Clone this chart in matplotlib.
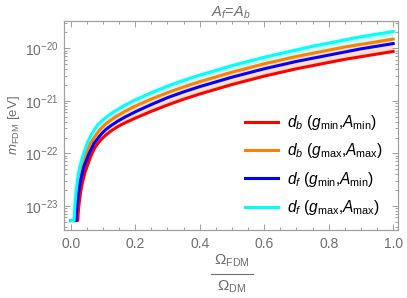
import numpy as np
import matplotlib
matplotlib.use("Agg")
import matplotlib.pyplot as plt
from matplotlib.ticker import MultipleLocator, LogLocator, NullFormatter

plt.rcParams['font.family'] = ['Liberation Sans', 'DejaVu Sans']
plt.rcParams['mathtext.fontset'] = 'custom'
plt.rcParams['mathtext.rm'] = 'Liberation Sans'
plt.rcParams['mathtext.it'] = 'Liberation Sans:italic'
plt.rcParams['mathtext.bf'] = 'Liberation Sans:bold'

# values: x = Omega_FDM/Omega_DM, y = log10(m_FDM / eV)
# (the curves run flat along the bottom of the plot range before they rise)
x_red = [0.0, 0.0215, 0.0225, 0.0248, 0.027, 0.030, 0.034, 0.038, 0.044, 0.050, 0.057,
         0.066, 0.075, 0.084, 0.097, 0.11, 0.125, 0.14, 0.155, 0.168, 0.2, 0.25, 0.3,
         0.35, 0.4, 0.45, 0.5, 0.55, 0.6, 0.65, 0.7, 0.75, 0.8, 0.85, 0.9, 0.95, 1.0]
lg_red = [-23.28, -23.28, -23.17, -23.02, -22.90, -22.76, -22.62, -22.51, -22.37, -22.26, -22.14,
          -22.0, -21.89, -21.81, -21.72, -21.645, -21.573, -21.513, -21.46, -21.42, -21.33, -21.20, -21.08,
          -20.97, -20.87, -20.78, -20.69, -20.61, -20.53, -20.46, -20.39, -20.33, -20.27, -20.21, -20.16, -20.11, -20.06]

x_orange = [0.0, 0.0135, 0.0145, 0.0157, 0.0200, 0.0255, 0.0345, 0.048, 0.061, 0.079, 0.093,
            0.108, 0.135, 0.168, 0.2, 0.25, 0.3, 0.35, 0.4, 0.45, 0.5, 0.55, 0.6,
            0.65, 0.7, 0.75, 0.8, 0.85, 0.9, 0.95, 1.0]
lg_orange = [-23.28, -23.28, -23.16, -23.02, -22.76, -22.51, -22.25, -22.0, -21.81, -21.64, -21.53,
             -21.44, -21.32, -21.20, -21.10, -20.965, -20.845, -20.735, -20.635, -20.545, -20.455, -20.375, -20.295,
             -20.225, -20.155, -20.095, -20.035, -19.975, -19.925, -19.875, -19.825]

x_blue = [0.0, 0.0165, 0.0175, 0.0187, 0.0235, 0.0305, 0.041, 0.057, 0.072, 0.095, 0.108,
          0.123, 0.145, 0.168, 0.2, 0.25, 0.3, 0.35, 0.4, 0.45, 0.5, 0.55, 0.6,
          0.65, 0.7, 0.75, 0.8, 0.85, 0.9, 0.95, 1.0]
lg_blue = [-23.28, -23.28, -23.15, -23.02, -22.76, -22.51, -22.25, -22.0, -21.81, -21.63, -21.55,
           -21.48, -21.39, -21.31, -21.21, -21.07, -20.94, -20.83, -20.73, -20.64, -20.55, -20.47, -20.39,
           -20.32, -20.25, -20.19, -20.13, -20.07, -20.01, -19.96, -19.91]

x_cyan = [0.0, 0.0105, 0.0115, 0.0125, 0.0160, 0.0205, 0.028, 0.040, 0.051, 0.065, 0.082,
          0.10, 0.13, 0.168, 0.2, 0.25, 0.3, 0.35, 0.4, 0.45, 0.5, 0.55, 0.6,
          0.65, 0.7, 0.75, 0.8, 0.85, 0.9, 0.95, 1.0]
lg_cyan = [-23.28, -23.28, -23.15, -23.02, -22.76, -22.51, -22.25, -22.0, -21.81, -21.63, -21.47,
           -21.36, -21.22, -21.083, -20.984, -20.844, -20.72, -20.61, -20.51, -20.42, -20.33, -20.25, -20.17,
           -20.10, -20.03, -19.96, -19.90, -19.84, -19.78, -19.73, -19.68]

labels = [r'$d_b$ ($g_{\rm min}$,$A_{\rm min}$)',
          r'$d_b$ ($g_{\rm max}$,$A_{\rm max}$)',
          r'$d_f$ ($g_{\rm min}$,$A_{\rm min}$)',
          r'$d_f$ ($g_{\rm max}$,$A_{\rm max}$)']
xticks = [0.0, 0.2, 0.4, 0.6, 0.8, 1.0]
yticks = [1e-23, 1e-22, 1e-21, 1e-20]

txt = '#6e6e6e'
W, H = 407, 298
fig = plt.figure(figsize=(W/100, H/100), dpi=100)
ax = fig.add_axes([64/W, 1-230/H, (398-64)/W, (230-21)/H])

def band(xa, la, xb, lb, color):
    xs = np.concatenate([xa, xb[::-1]])
    ys = 10**np.concatenate([la, lb[::-1]])
    ax.fill(xs, ys, color=color, lw=0, zorder=1)

band(np.array(x_blue), np.array(lg_blue), np.array(x_cyan), np.array(lg_cyan), '#c6fcfc')
band(np.array(x_red), np.array(lg_red), np.array(x_orange), np.array(lg_orange), '#fde0cc')

series = [(x_red, lg_red, '#ff0000'), (x_orange, lg_orange, '#ff8000'),
          (x_blue, lg_blue, '#0000ff'), (x_cyan, lg_cyan, '#00ffff')]
for (xp, lp, c), lab in zip(series, labels):
    ax.plot(xp, 10**np.array(lp), color=c, lw=2.2, label=lab, zorder=2)

ax.set_yscale('log')
ax.set_xlim(-0.021, 1.015)
ax.set_ylim(10**-23.46, 10**-19.48)
ax.set_xticks(xticks)
ax.set_xticklabels(['%.1f' % t for t in xticks])
ax.xaxis.set_minor_locator(MultipleLocator(0.05))
ax.set_yticks(yticks)
ax.set_yticklabels([r'$10^{%d}$' % int(np.log10(t)) for t in yticks])
ax.yaxis.set_minor_locator(LogLocator(base=10, subs=np.arange(2, 10), numticks=20))
ax.yaxis.set_minor_formatter(NullFormatter())

for s in ax.spines.values():
    s.set_color('#a0a0a0')
    s.set_linewidth(0.9)
ax.tick_params(which='both', direction='in', top=True, right=True, colors='#a0a0a0',
               labelcolor=txt, labelsize=10, width=0.7)
ax.tick_params(which='major', length=4.5)
ax.tick_params(which='minor', length=2.5)
ax.tick_params(axis='x', pad=5)
ax.tick_params(axis='y', pad=4)

ax.set_title(r'$A_f$=$A_b$', color=txt, fontsize=10.5, pad=3)
ax.set_ylabel(r'$m_{\rm FDM}$ [eV]', color=txt, fontsize=9.5, labelpad=2)

# fraction label under the x axis
fig.text(232/W, 1-261/H, r'$\Omega_{\rm FDM}$', ha='center', va='center', color=txt, fontsize=11)
fig.text(232/W, 1-287/H, r'$\Omega_{\rm DM}$', ha='center', va='center', color=txt, fontsize=11)
fig.add_artist(plt.Line2D([211/W, 253/W], [1-274/H, 1-274/H], color=txt, lw=0.8))

leg = ax.legend(loc='upper left', bbox_to_anchor=(245/W, 1-113/H), bbox_transform=fig.transFigure,
                frameon=False, fontsize=11.2, handlelength=2.1, handletextpad=0.6,
                labelspacing=0.6, borderpad=0, borderaxespad=0)

fig.savefig('out.png', dpi=100)
